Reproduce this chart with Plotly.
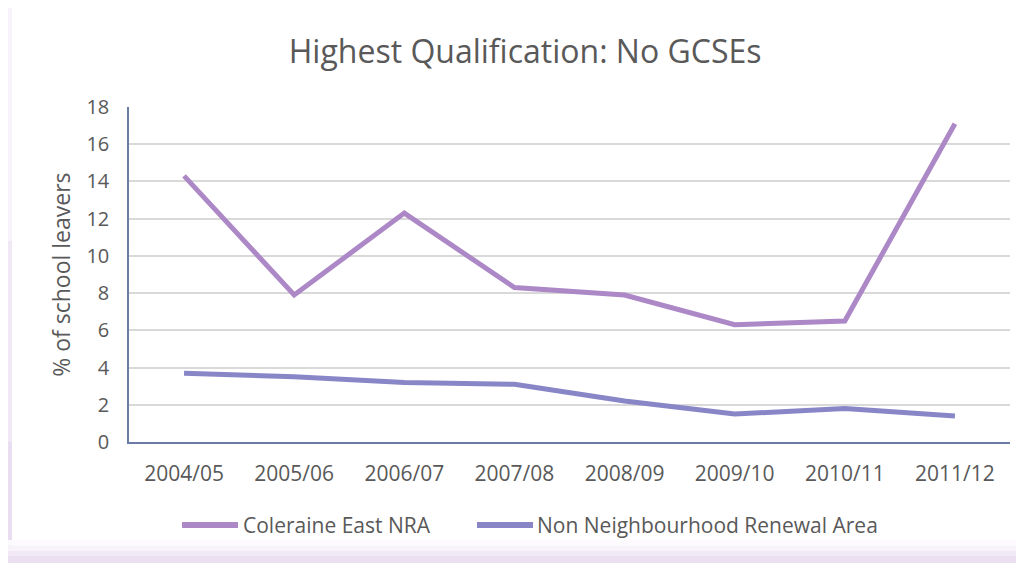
import plotly.graph_objects as go

categories = ["2004/05", "2005/06", "2006/07", "2007/08", "2008/09", "2009/10", "2010/11", "2011/12"]
coleraine = [14.3, 7.9, 12.3, 8.3, 7.9, 6.3, 6.5, 17.1]
non_nra = [3.7, 3.5, 3.2, 3.1, 2.2, 1.5, 1.8, 1.4]
y_ticks = [0, 2, 4, 6, 8, 10, 12, 14, 16, 18]
series_names = ["Coleraine East NRA", "Non Neighbourhood Renewal Area"]
series_colors = ["#AD88C7", "#8986C8"]

FONT = "'Open Sans', sans-serif"
TXT = "#595959"
fig = go.Figure()
for name, vals, col in zip(series_names, [coleraine, non_nra], series_colors):
    fig.add_trace(go.Scatter(x=categories, y=vals, mode="lines", name=name,
                             line=dict(color=col, width=5), showlegend=False))

# manual legend (line swatch + label), positioned in paper coordinates
legend_y = -0.248
legend_slots = [(0.0602, 0.1237, 0.1271), (0.395, 0.4586, 0.4608)]
shapes = []
annotations = []
for (x0, x1, xt), name, col in zip(legend_slots, series_names, series_colors):
    shapes.append(dict(type="line", xref="paper", yref="paper", x0=x0, x1=x1, y0=legend_y, y1=legend_y,
                       line=dict(color=col, width=6)))
    annotations.append(dict(text=name, xref="paper", yref="paper", x=xt, y=legend_y, xanchor="left",
                            yanchor="middle", showarrow=False, font=dict(size=21, color=TXT, family=FONT)))

annotations.append(dict(text="% of school leavers", xref="paper", yref="paper", x=-0.078, y=0.5,
                        xanchor="center", yanchor="middle", textangle=-90, showarrow=False,
                        font=dict(size=23, color=TXT, family=FONT)))

# decorative chart-frame shadow: faint left edge and bottom gradient
bx0, bx1 = -0.1373, -0.1328
edge_bands = [(0.6, 1.3, "#F8F3FA"), (0.0, 0.6, "#F1E8F6"), (-0.37, 0.0, "#EADDF1")]
for y0, y1, c in edge_bands:
    shapes.append(dict(type="rect", xref="paper", yref="paper", x0=bx0, x1=bx1, y0=y0, y1=y1,
                       fillcolor=c, line=dict(width=0), layer="below"))
bottom_bands = [(-0.2925, -0.310, "#FCFAFD"), (-0.310, -0.325, "#F8F2FA"), (-0.325, -0.340, "#F2E9F6"),
                (-0.340, -0.37, "#EBDFF2")]
for y1, y0, c in bottom_bands:
    shapes.append(dict(type="rect", xref="paper", yref="paper", x0=bx0, x1=1.02, y0=y0, y1=y1,
                       fillcolor=c, line=dict(width=0), layer="below"))

fig.update_layout(
    width=1016, height=555,
    margin=dict(l=121, r=14, t=99, b=121),
    paper_bgcolor="white", plot_bgcolor="white",
    font=dict(family=FONT, color=TXT, size=20),
    showlegend=False,
    title=dict(text="Highest Qualification: No GCSEs", x=0.509, xanchor="center", y=0.921, yanchor="middle",
               font=dict(size=32, color=TXT, family=FONT)),
    xaxis=dict(type="category", range=[-0.5, 7.5], showgrid=False, showline=True, linecolor="#6A7CA6",
               linewidth=1.5, ticks="outside", ticklen=12, tickcolor="rgba(0,0,0,0)",
               tickfont=dict(size=21)),
    yaxis=dict(range=[0, 18], tickvals=y_ticks, showgrid=True, gridcolor="#D9D9D9", gridwidth=1.5,
               showline=True, linecolor="#6A7CA6", linewidth=1.5, ticks="outside", ticklen=14,
               tickcolor="rgba(0,0,0,0)", zeroline=False, tickfont=dict(size=20)),
    annotations=annotations,
    shapes=shapes,
)
fig.write_html("out.html")
